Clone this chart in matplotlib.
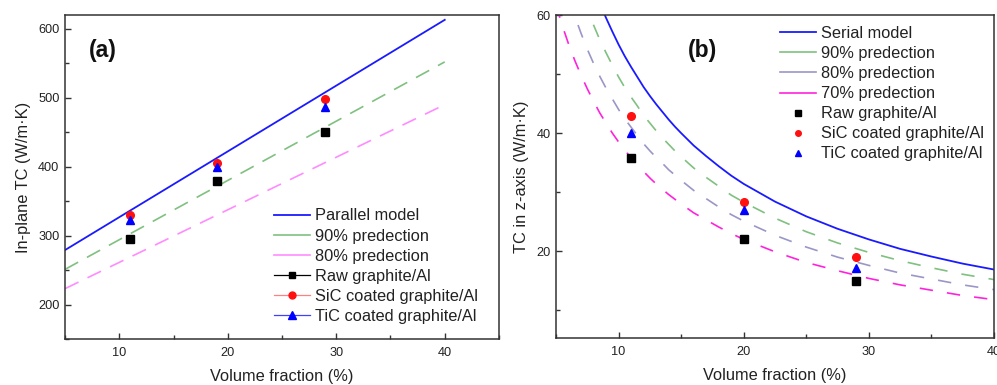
import matplotlib
matplotlib.use("Agg")
import matplotlib.pyplot as plt
from matplotlib.lines import Line2D
from matplotlib.ticker import MultipleLocator

plt.rcParams['font.family'] = ['Liberation Sans', 'DejaVu Sans']

# ---------------- Panel (a) data ----------------
a_line_x = [5, 40]
a_parallel = [279, 613]
a_pred90 = [251, 552]
a_pred80 = [223, 490]

a_exp_x = [11, 19, 29]
a_raw = [295, 379, 450]
a_sic = [330, 406, 498]
a_tic = [323, 400, 486]

# ---------------- Panel (b) data ----------------
b_x = [5, 5.5, 6, 6.5, 7, 7.5, 8, 8.5, 9, 9.5,
       10, 10.5, 11, 11.5, 12, 12.5, 13, 13.5, 14, 14.5,
       15, 16, 17, 18, 19, 20, 22.5, 25, 27.5, 30, 32.5, 35, 37.5, 40]
b_serial = [88.2, 83.2, 78.7, 74.7, 71.1, 67.8, 64.8, 62.0, 59.5, 57.2,
            55.0, 53.0, 51.2, 49.5, 47.8, 46.3, 44.9, 43.6, 42.3, 41.1,
            40.0, 37.9, 36.1, 34.4, 32.8, 31.4, 28.4, 25.9, 23.8, 22.0, 20.4, 19.1, 17.9, 16.9]
b_pred90 = [79.4, 74.9, 70.8, 67.2, 64.0, 61.0, 58.3, 55.8, 53.6, 51.5,
            49.5, 47.7, 46.1, 44.6, 43.0, 41.7, 40.4, 39.2, 38.1, 37.0,
            36.0, 34.1, 32.5, 31.0, 29.5, 28.3, 25.6, 23.3, 21.4, 19.8, 18.4, 17.2, 16.1, 15.2]
b_pred80 = [70.6, 66.6, 63.0, 59.8, 56.9, 54.2, 51.8, 49.6, 47.6, 45.8,
            44.0, 42.4, 41.0, 39.6, 38.2, 37.0, 35.9, 34.9, 33.8, 32.9,
            32.0, 30.3, 28.9, 27.5, 26.2, 25.1, 22.7, 20.7, 19.0, 17.6, 16.3, 15.3, 14.3, 13.5]
b_pred70 = [61.7, 58.2, 55.1, 52.3, 49.8, 47.5, 45.4, 43.4, 41.7, 40.0,
            38.5, 37.1, 35.8, 34.7, 33.5, 32.4, 31.4, 30.5, 29.6, 28.8,
            28.0, 26.5, 25.3, 24.1, 23.0, 22.0, 19.9, 18.1, 16.7, 15.4, 14.3, 13.4, 12.5, 11.8]

b_exp_x = [11, 20, 29]
b_raw = [35.8, 22.0, 15.0]
b_sic = [42.9, 28.3, 19.0]
b_tic = [40.0, 27.0, 17.1]

BLUE = '#1a1aff'
GREEN = '#80c080'
PINK = '#ff8cff'
LAV = '#9a96c8'
MAG = '#ff22dd'
RED = '#ff1010'
TXT = '#222222'

LABEL_FS = 11.8
LEG_FS = 11.8
TICK_FS = 9.2

fig = plt.figure(figsize=(9.97, 3.85), dpi=100)
ax1 = fig.add_axes([0.0652, 0.1195, 0.4353, 0.8415])
ax2 = fig.add_axes([0.5577, 0.122, 0.4393, 0.839])


def style(ax):
    for s in ax.spines.values():
        s.set_color('#333333')
        s.set_linewidth(1.1)
    ax.tick_params(which='both', direction='in', colors='#333333', labelcolor=TXT,
                   labelsize=TICK_FS, top=False, right=False)
    ax.tick_params(which='major', length=4, width=1)
    ax.tick_params(which='minor', length=3, width=1)
    ax.tick_params(axis='x', pad=6)
    ax.tick_params(axis='y', pad=4)
    ax.xaxis.set_minor_locator(MultipleLocator(5))
    ax.xaxis.set_major_locator(MultipleLocator(10))


# ---------------- Panel (a) ----------------
ax1.plot(a_line_x, a_parallel, color=BLUE, lw=1.3)
ax1.plot(a_line_x, a_pred90, color=GREEN, lw=1.2, dashes=(9, 6))
ax1.plot(a_line_x, a_pred80, color=PINK, lw=1.2, dashes=(9, 6))
ax1.plot(a_exp_x, a_raw, ls='none', marker='s', color='black', ms=5.5)
ax1.plot(a_exp_x, a_sic, ls='none', marker='o', color=RED, ms=5.5)
ax1.plot(a_exp_x, a_tic, ls='none', marker='^', color='#0000ff', ms=6)
ax1.set_xlim(5, 45)
ax1.set_ylim(150, 620)
style(ax1)
ax1.yaxis.set_major_locator(MultipleLocator(100))
ax1.yaxis.set_minor_locator(MultipleLocator(50))
ax1.set_yticks([200, 300, 400, 500, 600])
ax1.set_xticks([10, 20, 30, 40])
ax1.set_xlabel('Volume fraction (%)', fontsize=LABEL_FS, color=TXT, labelpad=7)
ax1.set_ylabel('In-plane TC (W/m·K)', fontsize=LABEL_FS, color=TXT, labelpad=5)
ax1.text(0.088, 0.89, '(a)', transform=ax1.transAxes, fontsize=16.5, fontweight='bold',
         ha='center', va='center', color='#111111')

h1 = [Line2D([], [], color=BLUE, lw=1.3),
      Line2D([], [], color=GREEN, lw=1.2),
      Line2D([], [], color=PINK, lw=1.2),
      Line2D([], [], color='black', lw=0.9, marker='s', ms=5),
      Line2D([], [], color='#ff8080', lw=0.9, marker='o', mfc=RED, mec=RED, ms=5),
      Line2D([], [], color='#4040ff', lw=0.9, marker='^', mfc='#0000ff', mec='#0000ff', ms=5.5)]
l1 = ['Parallel model', '90% predection', '80% predection', 'Raw graphite/Al',
      'SiC coated graphite/Al', 'TiC coated graphite/Al']
leg1 = ax1.legend(h1, l1, loc='upper left', bbox_to_anchor=(0.4816, 0.403), frameon=False,
                  fontsize=LEG_FS, handlelength=2.2, handletextpad=0.3, labelspacing=0.31,
                  borderaxespad=0, borderpad=0)
for t in leg1.get_texts():
    t.set_color(TXT)

# ---------------- Panel (b) ----------------
ax2.plot(b_x, b_serial, color=BLUE, lw=1.3)
ax2.plot(b_x, b_pred90, color=GREEN, lw=1.2, dashes=(8, 8.5))
ax2.plot(b_x, b_pred80, color=LAV, lw=1.2, dashes=(8, 8.5))
ax2.plot(b_x, b_pred70, color=MAG, lw=1.2, dashes=(8, 8.5))
ax2.plot(b_exp_x, b_raw, ls='none', marker='s', color='black', ms=5.5)
ax2.plot(b_exp_x, b_sic, ls='none', marker='o', color=RED, ms=5.5)
ax2.plot(b_exp_x, b_tic, ls='none', marker='^', color='#0000ff', ms=6)
ax2.set_xlim(5, 40)
ax2.set_ylim(5.3, 59.8)
style(ax2)
ax2.yaxis.set_major_locator(MultipleLocator(20))
ax2.yaxis.set_minor_locator(MultipleLocator(10))
ax2.set_yticks([20, 40, 60])
ax2.set_xticks([10, 20, 30, 40])
ax2.set_xlabel('Volume fraction (%)', fontsize=LABEL_FS, color=TXT, labelpad=7)
ax2.set_ylabel('TC in z-axis (W/m·K)', fontsize=LABEL_FS, color=TXT, labelpad=5)
ax2.text(0.335, 0.89, '(b)', transform=ax2.transAxes, fontsize=16.5, fontweight='bold',
         ha='center', va='center', color='#111111')

h2 = [Line2D([], [], color=BLUE, lw=1.3),
      Line2D([], [], color=GREEN, lw=1.2),
      Line2D([], [], color=LAV, lw=1.2),
      Line2D([], [], color=MAG, lw=1.2),
      Line2D([], [], ls='none', marker='s', color='black', ms=4),
      Line2D([], [], ls='none', marker='o', color=RED, ms=4),
      Line2D([], [], ls='none', marker='^', color='#0000ff', ms=5)]
l2 = ['Serial model', '90% predection', '80% predection', '70% predection',
      'Raw graphite/Al', 'SiC coated graphite/Al', 'TiC coated graphite/Al']
leg2 = ax2.legend(h2, l2, loc='upper left', bbox_to_anchor=(0.511, 0.966), frameon=False,
                  fontsize=LEG_FS, handlelength=2.2, handletextpad=0.3, labelspacing=0.31,
                  borderaxespad=0, borderpad=0)
for t in leg2.get_texts():
    t.set_color(TXT)

fig.savefig('out.png', dpi=100)
